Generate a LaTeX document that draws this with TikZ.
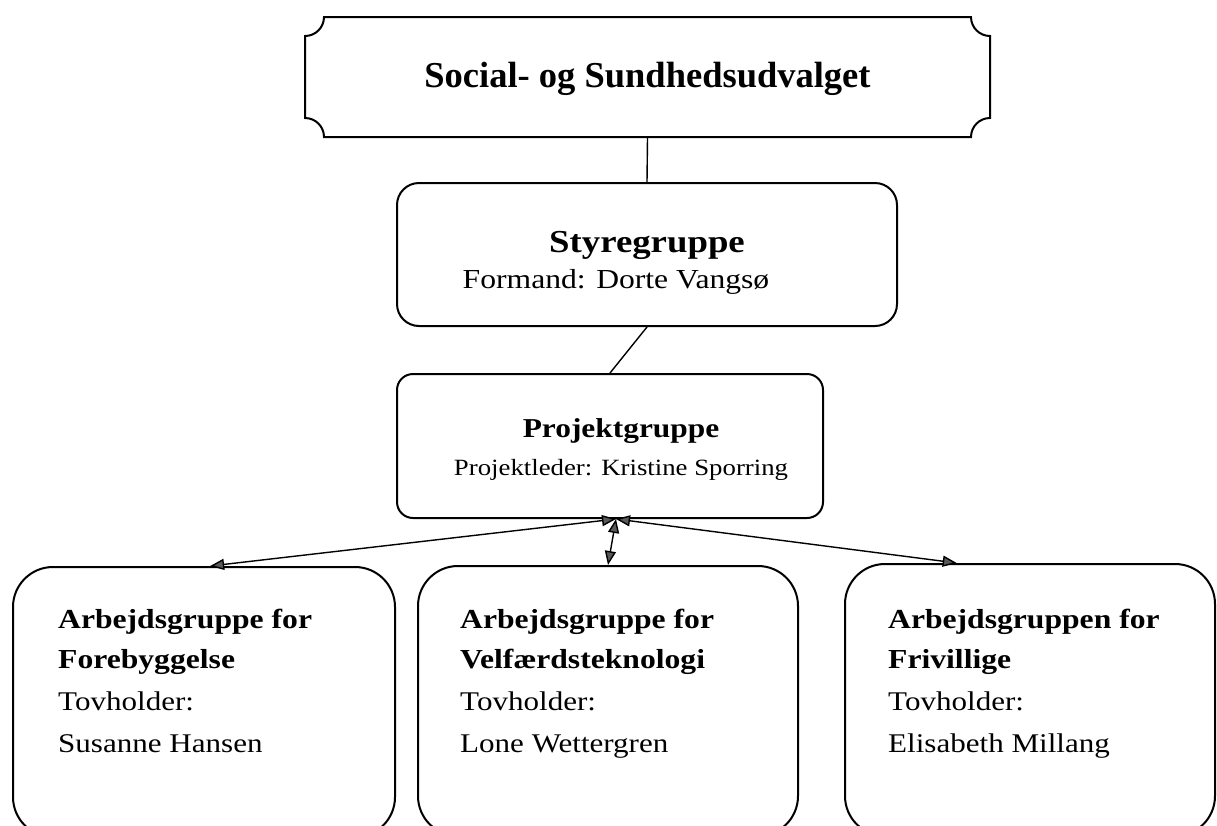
\documentclass[tikz,border=0pt]{standalone}
\usepackage{fontspec}
\setmainfont{Liberation Serif}
\newfontfamily\wideserif[FakeStretch=1.15]{Liberation Serif}
\usetikzlibrary{arrows.meta,calc}
\tikzset{
  boxline/.style={draw=black, line width=2pt},
  roundbox/.style={boxline, rectangle, inner sep=0pt},
  ghostbox/.style={rectangle, inner sep=0pt, draw=none},
  txt/.style={inner sep=0pt, anchor=base},
  txtl/.style={inner sep=0pt, anchor=base west},
  conn/.style={draw=black, line width=1.4pt},
  headtip/.tip={Triangle[length=14pt,width=11pt,fill=black!65]},
  biarrow/.style={conn, headtip-headtip},
  boldA/.style={font=\wideserif\bfseries\fontsize{27.5}{30}\selectfont},
  regA/.style={font=\wideserif\fontsize{27}{30}\selectfont},
}
\begin{document}
\begin{tikzpicture}[x=1pt,y=-1pt]
\useasboundingbox (0,0) rectangle (1217,825);
\clip (0,0) rectangle (1217,825);

% top plaque box
\node[ghostbox, minimum width=685pt, minimum height=120pt] (udvalg) at (647.5,77) {};
\draw[boxline] (324,17) -- (971,17) .. controls (971,27.5) and (979.5,36) .. (990,36)
  -- (990,118) .. controls (979.5,118) and (971,126.5) .. (971,137)
  -- (324,137) .. controls (324,126.5) and (315.5,118) .. (305,118)
  -- (305,36) .. controls (315.5,36) and (324,27.5) .. (324,17) -- cycle;
\node[txt, font=\bfseries\fontsize{36.5}{40}\selectfont] (udvalgtxt) at (647.5,87) {Social- og Sundhedsudvalget};

% Styregruppe
\node[roundbox, rounded corners=22pt, minimum width=500pt, minimum height=143pt] (styre) at (647,254.5) {};
\node[txt, font=\wideserif\bfseries\fontsize{32}{36}\selectfont] (styretitle) at (647,252) {Styregruppe};
\node[txt, font=\wideserif\fontsize{27.5}{30}\selectfont] (styresub) at (616,288) {Formand: Dorte Vangsø};

% Projektgruppe
\node[roundbox, rounded corners=16pt, minimum width=426pt, minimum height=144pt] (projekt) at (610,446) {};
\node[txt, font=\wideserif\bfseries\fontsize{27.3}{30}\selectfont] (projekttitle) at (621,437) {Projektgruppe};
\node[txt, font=\wideserif\fontsize{23.3}{26}\selectfont] (projektsub) at (621,475) {Projektleder: Kristine Sporring};

% working groups
\node[roundbox, rounded corners=40pt, minimum width=382pt, minimum height=270pt] (arb1) at (204,702) {};
\node[roundbox, rounded corners=40pt, minimum width=380pt, minimum height=270pt] (arb2) at (608,701) {};
\node[roundbox, rounded corners=40pt, minimum width=370pt, minimum height=272pt] (arb3) at (1030,700) {};

\node[txtl, boldA] (a1l1) at (58,628) {Arbejdsgruppe for};
\node[txtl, boldA] (a1l2) at (58,668) {Forebyggelse};
\node[txtl, regA] (a1l3) at (58,710) {Tovholder:};
\node[txtl, regA] (a1l4) at (58,752) {Susanne Hansen};

\node[txtl, boldA] (a2l1) at (460,628) {Arbejdsgruppe for};
\node[txtl, boldA] (a2l2) at (460,668) {Velfærdsteknologi};
\node[txtl, regA] (a2l3) at (460,710) {Tovholder:};
\node[txtl, regA] (a2l4) at (460,752) {Lone Wettergren};

\node[txtl, boldA] (a3l1) at (888,628) {Arbejdsgruppen for};
\node[txtl, boldA] (a3l2) at (888,668) {Frivillige};
\node[txtl, regA] (a3l3) at (888,710) {Tovholder:};
\node[txtl, regA] (a3l4) at (888,752) {Elisabeth Millang};

% connectors
\draw[conn] (udvalg.south) -- (styre.north);
\draw[conn] (styre.south) -- (projekt.north);
\coordinate (hub) at ([xshift=6pt]projekt.south);
\draw[biarrow] (hub) -- ($(arb1.north west)!0.516!(arb1.north east)$);
\draw[biarrow] (hub) -- (arb2.north);
\draw[biarrow] (hub) -- ($(arb3.north west)!0.303!(arb3.north east)$);
\end{tikzpicture}
\end{document}
